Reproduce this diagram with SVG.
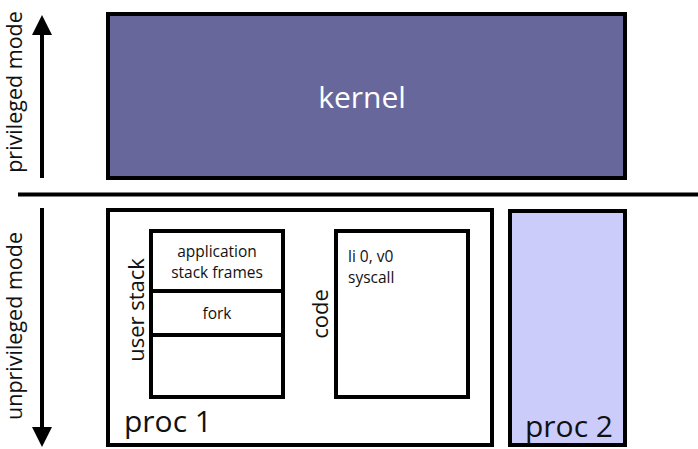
<svg xmlns="http://www.w3.org/2000/svg" width="698" height="449" viewBox="0 0 698 449">
<defs>
<style>
text{font-family:"Open Sans","Liberation Sans",sans-serif;fill:#111}
.box{stroke:#000;stroke-width:4}
.ln{stroke:#000;stroke-width:4;fill:none}
.sm{font-size:15.5px}
</style>
</defs>
<rect width="698" height="449" fill="#fff"/>
<g id="connectors">
<line x1="18" y1="194.5" x2="698" y2="194.5" class="ln" stroke-width="3"/>
<line x1="42" y1="178" x2="42" y2="34" class="ln" stroke-width="3"/>
<path d="M42,15 L52,35 L32,35 z" fill="#000"/>
<line x1="42" y1="208" x2="42" y2="428" class="ln" stroke-width="3"/>
<path d="M42,447 L52,427 L32,427 z" fill="#000"/>
</g>
<g id="labels">
<text transform="translate(22,92) rotate(-90)" text-anchor="middle" font-size="21.5">privileged mode</text>
<text transform="translate(22,326) rotate(-90)" text-anchor="middle" font-size="21.5">unprivileged mode</text>
</g>
<g id="kernel">
<rect x="108" y="14" width="517" height="164" fill="#67679b" class="box"/>
<text x="362" y="108" text-anchor="middle" font-size="30" style="fill:#fff">kernel</text>
</g>
<g id="proc1">
<rect x="108" y="210" width="384" height="235" fill="#fff" class="box"/>
<text x="124" y="432" font-size="30">proc 1</text>
</g>
<g id="userstack">
<rect x="151" y="231" width="132" height="166" fill="#fff" class="box"/>
<line x1="151" y1="291" x2="283" y2="291" class="ln"/>
<line x1="151" y1="335" x2="283" y2="335" class="ln"/>
<text transform="translate(144,310) rotate(-90)" text-anchor="middle" font-size="22">user stack</text>
<text x="217" y="257" text-anchor="middle" class="sm">application</text>
<text x="217" y="278" text-anchor="middle" class="sm">stack frames</text>
<text x="217" y="319" text-anchor="middle" class="sm">fork</text>
</g>
<g id="code">
<rect x="336" y="231" width="132" height="166" fill="#fff" class="box"/>
<text transform="translate(328,314) rotate(-90)" text-anchor="middle" font-size="22">code</text>
<text x="348" y="262" class="sm">li 0, v0</text>
<text x="348" y="283" class="sm">syscall</text>
</g>
<g id="proc2">
<rect x="510" y="211" width="115" height="234" fill="#ccccfa" class="box"/>
<text x="525" y="437" font-size="30">proc 2</text>
</g>
</svg>
